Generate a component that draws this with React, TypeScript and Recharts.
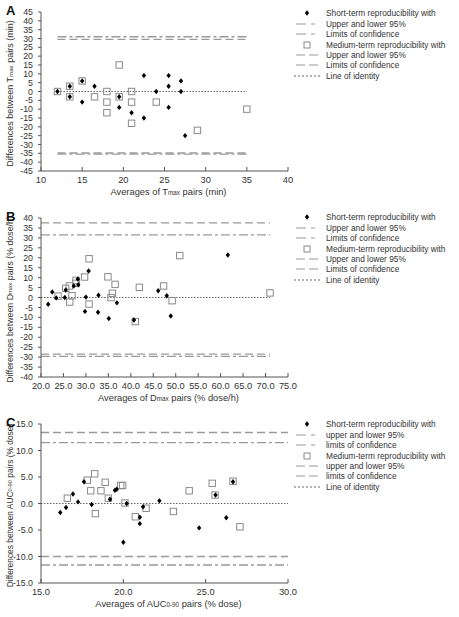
import React from 'react';
import { ScatterChart, Scatter, XAxis, YAxis, ReferenceLine, Label } from 'recharts';

const FONT = "'Liberation Sans', Arial, sans-serif";

// ---------- Panel A: Tmax ----------
const aXTicks = [10, 15, 20, 25, 30, 35, 40];
const aYTicks = [45, 40, 35, 30, 25, 20, 15, 10, 5, 0, -5, -10, -15, -20, -25, -30, -35, -40, -45];
const aShortX = [12, 13.5, 13.5, 15, 15, 16.5, 19.5, 19.5, 21, 22.5, 22.5, 24, 25.5, 25.5, 25.5, 27, 27, 27.5];
const aShortY = [0, 3, -3, 6, -6, 3, -9, -3, -12, 9, -15, 0, 9, 3, -9, 6, 0, -25];
const aMedX = [12, 13.5, 13.5, 15, 16.5, 18, 18, 18, 19.5, 19.5, 21, 21, 21, 24, 29, 35];
const aMedY = [0, 3, -3, 6, -3, 0, -6, -12, 15, -3, 0, -6, -18, -6, -22, -10];
const aShortLimits = [31, -35.5];
const aMedLimits = [29.5, -34.8];
const aLineRange = [12, 35];

// ---------- Panel B: Dmax ----------
const bXTicks = [20, 25, 30, 35, 40, 45, 50, 55, 60, 65, 70, 75];
const bYTicks = [40, 35, 30, 25, 20, 15, 10, 5, 0, -5, -10, -15, -20, -25, -30, -35, -40];
const bShortX = [21.6, 22.5, 23.4, 25.3, 25.5, 27.3, 28.2, 28.3, 30.0, 29.8, 30.6, 32.8, 32.7, 35.1, 36.9, 40.7, 46.1, 48.0, 48.9, 61.6];
const bShortY = [-3.4, 2.8, -0.2, 0, 3.8, 5.8, 9.3, 6.4, 0.2, -7.0, 13.3, 1.1, -7.4, -10.6, -2.7, -11.3, 3.4, 0.9, -9.3, 21.4];
const bMedX = [23.8, 25.5, 26.3, 26.4, 26.9, 27.8, 27.8, 29.7, 30.7, 30.7, 34.9, 36.5, 35.9, 35.6, 41.9, 41.0, 47.3, 49.2, 50.9, 71.0];
const bMedY = [0.7, 4.6, 5.8, -2.3, 0.9, 8.6, 7.1, 10.3, 19.5, -3.3, 10.4, 6.6, 2.1, 0, 5.1, -12.1, 5.8, -1.6, 21.1, 2.3];
const bShortLimits = [31.5, -29.6];
const bMedLimits = [37.5, -28.5];
const bLineRange = [20, 71];

// ---------- Panel C: AUC0-90 ----------
const cXTicks = [15, 20, 25, 30];
const cYTicks = [15, 10, 5, 0, -5, -10, -15];
const cShortX = [16.17, 16.52, 16.94, 17.25, 17.61, 18.08, 19.19, 19.49, 19.6, 20.0, 20.2, 21.0, 21.0, 21.2, 22.19, 24.6, 25.6, 26.25, 26.66];
const cShortY = [-1.7, -0.75, 1.8, 0.3, 4.1, -0.2, 0.8, 2.5, 2.7, -7.3, 0, -2.6, -3.8, -0.6, 0.5, -4.6, 1.6, -2.7, 4.1];
const cMedX = [16.6, 17.81, 18.02, 18.26, 18.3, 18.64, 18.9, 19.09, 19.84, 19.96, 20.1, 20.73, 21.38, 23.04, 24.0, 25.4, 25.57, 26.66, 27.08];
const cMedY = [1.0, 4.4, 2.4, 5.6, -1.9, 2.4, 4.0, 1.0, 3.4, 3.4, 0.1, -2.5, -0.9, -1.5, 2.4, 3.8, 1.6, 4.2, -4.4];
const cShortLimits = [11.5, -11.6];
const cMedLimits = [13.4, -10.0];
const cLineRange = [15, 30];

const toPoints = (xs: number[], ys: number[]) => xs.map((x, i) => ({ x, y: ys[i] }));

const Diamond = (p: any) => {
  const { cx, cy } = p;
  if (cx == null || cy == null) return null;
  return <polygon points={`${cx},${cy - 2.7} ${cx + 2.2},${cy} ${cx},${cy + 2.7} ${cx - 2.2},${cy}`} fill="#000" />;
};
const Square = (p: any) => {
  const { cx, cy } = p;
  if (cx == null || cy == null) return null;
  return <rect x={cx - 3.2} y={cy - 3.2} width={6.4} height={6.4} fill="none" stroke="#8a8a8a" strokeWidth={1} />;
};

const DASH_SHORT = '9 3 3 3';
const DASH_MED = '8 4';
const LIMIT_COLOR = '#9a9a9a';

type Title = { main: string; sub: string; rest: string };

const makeXTitle = (t: Title) => (props: any) => {
  const vb = props.viewBox || { x: 0, y: 0, width: 0, height: 0 };
  return (
    <text x={vb.x + vb.width / 2 + 4} y={vb.y + 24} textAnchor="middle" fontSize={9.3} fill="#333" fontFamily={FONT}>
      {t.main}
      <tspan fontSize={6.3}>{t.sub}</tspan>
      {t.rest}
    </text>
  );
};

const makeYTitle = (t: Title, size: number) => (props: any) => {
  const vb = props.viewBox || { x: 0, y: 0, width: 0, height: 0 };
  const cx = 10;
  const cy = vb.y + vb.height / 2 + 2;
  return (
    <text x={cx} y={cy} transform={`rotate(-90, ${cx}, ${cy})`} textAnchor="middle" dominantBaseline="central" fontSize={size} fill="#333" fontFamily={FONT}>
      {t.main}
      <tspan fontSize={size * 0.68}>{t.sub}</tspan>
      {t.rest}
    </text>
  );
};

type PanelProps = {
  letter: string;
  top: number;
  height: number;
  marginTop: number;
  xDomain: [number, number];
  yDomain: [number, number];
  xTicks: number[];
  yTicks: number[];
  xFmt: (v: number) => string;
  yFmt: (v: number) => string;
  shortX: number[];
  shortY: number[];
  medX: number[];
  medY: number[];
  shortLimits: number[];
  medLimits: number[];
  lineRange: number[];
  xTitle: Title;
  yTitle: Title;
  yTitleSize: number;
  legendTop: number;
  legendLabels: string[];
};

const LegendSample = ({ kind }: { kind: string }) => (
  <svg width={28} height={10} style={{ display: 'block' }}>
    {kind === 'diamond' && <polygon points="14,2.3 16.2,5 14,7.7 11.8,5" fill="#000" />}
    {kind === 'square' && <rect x={11} y={2} width={6} height={6} fill="none" stroke="#8a8a8a" strokeWidth={1} />}
    {kind === 'short' && <line x1={3} x2={25} y1={5} y2={5} stroke={LIMIT_COLOR} strokeWidth={1.2} strokeDasharray="10 5 4 10" />}
    {kind === 'med' && <line x1={3} x2={25} y1={5} y2={5} stroke={LIMIT_COLOR} strokeWidth={1.2} strokeDasharray="9 4" />}
    {kind === 'ident' && <line x1={1} x2={27} y1={5} y2={5} stroke="#666" strokeWidth={1} strokeDasharray="2 2" />}
  </svg>
);

const legendKinds = ['diamond', 'short', 'short', 'square', 'med', 'med', 'ident'];

const Panel = (p: PanelProps) => {
  const shortPts = toPoints(p.shortX, p.shortY);
  const medPts = toPoints(p.medX, p.medY);
  const [x0, x1] = p.lineRange;
  const limitLine = (y: number, dash: string, key: string) => (
    <ReferenceLine
      key={key}
      segment={[{ x: x0, y }, { x: x1, y }]}
      stroke={LIMIT_COLOR}
      strokeWidth={1.3}
      strokeDasharray={dash}
      ifOverflow="extendDomain"
    />
  );
  return (
    <div style={{ position: 'absolute', left: 0, top: p.top, width: 459, height: p.height }}>
      <ScatterChart
        width={459}
        height={p.height}
        margin={{ top: p.marginTop, right: 171, bottom: 0, left: 0 }}
        style={{ fontFamily: FONT }}
      >
        <XAxis
          type="number"
          dataKey="x"
          domain={p.xDomain}
          ticks={p.xTicks}
          interval={0}
          allowDataOverflow
          height={p.height - p.marginTop - 159}
          tickFormatter={p.xFmt}
          tick={{ fontSize: 9.3, fill: '#333', fontFamily: FONT }}
          tickSize={-4}
          tickMargin={9}
          axisLine={{ stroke: '#555' }}
          tickLine={{ stroke: '#555' }}
          label={<Label content={makeXTitle(p.xTitle)} />}
        />
        <YAxis
          type="number"
          dataKey="y"
          domain={p.yDomain}
          ticks={p.yTicks}
          interval={0}
          allowDataOverflow
          width={41}
          tickFormatter={p.yFmt}
          tick={{ fontSize: 8.8, fill: '#333', fontFamily: FONT }}
          tickSize={3}
          tickMargin={5}
          axisLine={{ stroke: '#555' }}
          tickLine={{ stroke: '#555' }}
          label={<Label content={makeYTitle(p.yTitle, p.yTitleSize)} />}
        />
        {limitLine(p.medLimits[0], DASH_MED, 'm0')}
        {limitLine(p.medLimits[1], DASH_MED, 'm1')}
        {limitLine(p.shortLimits[0], DASH_SHORT, 's0')}
        {limitLine(p.shortLimits[1], DASH_SHORT, 's1')}
        <ReferenceLine segment={[{ x: x0, y: 0 }, { x: x1, y: 0 }]} stroke="#666" strokeWidth={1} strokeDasharray="1.5 1.5" />
        <Scatter data={medPts} shape={Square} isAnimationActive={false} />
        <Scatter data={shortPts} shape={Diamond} isAnimationActive={false} />
      </ScatterChart>
      <div style={{ position: 'absolute', left: 6, top: p.marginTop - 9, fontFamily: FONT, fontWeight: 'bold', fontSize: 13, color: '#111' }}>
        {p.letter}
      </div>
      <div style={{ position: 'absolute', left: 293, top: p.legendTop, fontFamily: FONT, fontSize: 8.3, color: '#333' }}>
        {p.legendLabels.map((lab, i) => (
          <div key={i} style={{ display: 'flex', alignItems: 'center', height: 10.45, whiteSpace: 'nowrap' }}>
            <LegendSample kind={legendKinds[i]} />
            <span style={{ marginLeft: 5, lineHeight: '10px' }}>{lab}</span>
          </div>
        ))}
      </div>
    </div>
  );
};

const int = (v: number) => String(v);
const dec = (v: number) => v.toFixed(1);

const legendUpper = [
  'Short-term reproducibility with',
  'Upper and lower 95%',
  'Limits of confidence',
  'Medium-term reproducibility with',
  'Upper and lower 95%',
  'Limits of confidence',
  'Line of identity',
];
const legendLower = [
  'Short-term reproducibility with',
  'upper and lower 95%',
  'limits of confidence',
  'Medium-term reproducibility with',
  'upper and lower 95%',
  'limits of confidence',
  'Line of identity',
];

export default function App() {
  return (
    <div style={{ position: 'absolute', left: 0, top: 0, width: 459, height: 617, background: '#fff', overflow: 'hidden' }}>
      <Panel
        letter="A"
        top={0}
        height={205}
        marginTop={12}
        xDomain={[10, 40]}
        yDomain={[-45, 45]}
        xTicks={aXTicks}
        yTicks={aYTicks}
        xFmt={int}
        yFmt={int}
        shortX={aShortX}
        shortY={aShortY}
        medX={aMedX}
        medY={aMedY}
        shortLimits={aShortLimits}
        medLimits={aMedLimits}
        lineRange={aLineRange}
        xTitle={{ main: 'Averages of T', sub: 'max', rest: ' pairs (min)' }}
        yTitle={{ main: 'Differences between T', sub: 'max', rest: ' pairs (min)' }}
        yTitleSize={9}
        legendTop={8}
        legendLabels={legendUpper}
      />
      <Panel
        letter="B"
        top={205}
        height={205}
        marginTop={13}
        xDomain={[20, 75]}
        yDomain={[-40, 40]}
        xTicks={bXTicks}
        yTicks={bYTicks}
        xFmt={dec}
        yFmt={int}
        shortX={bShortX}
        shortY={bShortY}
        medX={bMedX}
        medY={bMedY}
        shortLimits={bShortLimits}
        medLimits={bMedLimits}
        lineRange={bLineRange}
        xTitle={{ main: 'Averages of D', sub: 'max', rest: ' pairs (% dose/h)' }}
        yTitle={{ main: 'Differences between D', sub: 'max', rest: ' pairs (% dose/h)' }}
        yTitleSize={8.8}
        legendTop={7}
        legendLabels={legendUpper}
      />
      <Panel
        letter="C"
        top={410}
        height={207}
        marginTop={14}
        xDomain={[15, 30]}
        yDomain={[-15, 15]}
        xTicks={cXTicks}
        yTicks={cYTicks}
        xFmt={dec}
        yFmt={dec}
        shortX={cShortX}
        shortY={cShortY}
        medX={cMedX}
        medY={cMedY}
        shortLimits={cShortLimits}
        medLimits={cMedLimits}
        lineRange={cLineRange}
        xTitle={{ main: 'Averages of AUC', sub: '0-90', rest: ' pairs (% dose)' }}
        yTitle={{ main: 'Differences between AUC', sub: '0-90', rest: ' pairs (% dose)' }}
        yTitleSize={8.4}
        legendTop={9}
        legendLabels={legendLower}
      />
    </div>
  );
}
